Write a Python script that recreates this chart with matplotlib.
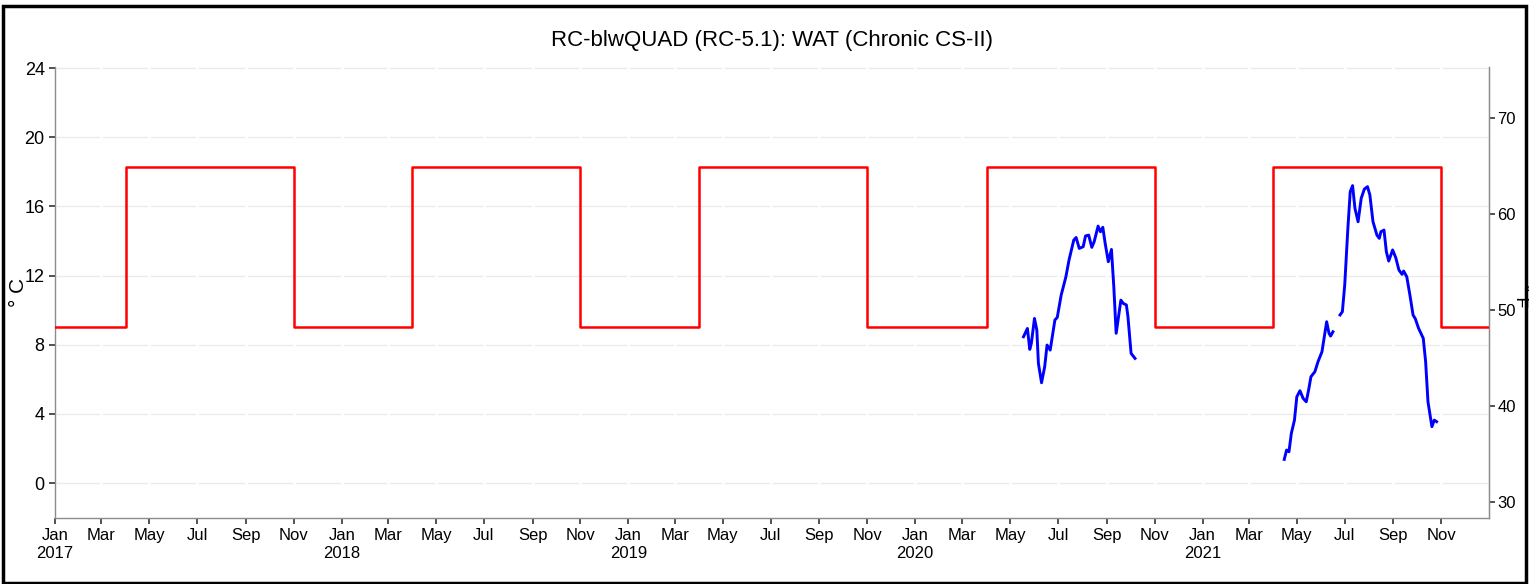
import pandas as pd
import matplotlib
matplotlib.use('Agg')
import matplotlib.pyplot as plt
from matplotlib.patches import Rectangle

plt.rcParams['font.family'] = ['Liberation Sans Narrow', 'Liberation Sans', 'DejaVu Sans']

# criterion step (deg C): high season Apr 1 - Nov 1, low otherwise
crit_dates = ['2017-01-01', '2017-04-01', '2017-11-01', '2018-04-01', '2018-11-01',
              '2019-04-01', '2019-11-01', '2020-04-01', '2020-11-01', '2021-04-01',
              '2021-11-01', '2022-01-01']
crit_vals = [9.0, 18.3, 9.0, 18.3, 9.0, 18.3, 9.0, 18.3, 9.0, 18.3, 9.0, 9.0]

# water temperature 2020
wat20_dates = ['2020-05-18', '2020-05-23', '2020-05-26', '2020-05-28', '2020-06-01',
               '2020-06-04', '2020-06-06', '2020-06-10', '2020-06-14', '2020-06-17',
               '2020-06-21', '2020-06-27', '2020-06-30', '2020-07-05', '2020-07-11',
               '2020-07-15', '2020-07-21', '2020-07-24', '2020-07-28', '2020-08-02',
               '2020-08-05', '2020-08-09', '2020-08-13', '2020-08-16', '2020-08-21',
               '2020-08-24', '2020-08-27', '2020-08-30', '2020-09-03', '2020-09-07',
               '2020-09-10', '2020-09-13', '2020-09-19', '2020-09-22', '2020-09-26',
               '2020-09-28', '2020-10-02', '2020-10-07']
wat20_vals = [8.46, 8.94, 7.73, 8.08, 9.52, 8.85, 6.92, 5.80, 6.73, 7.98,
              7.69, 9.43, 9.58, 10.87, 11.93, 12.9, 14.05, 14.2, 13.57, 13.67,
              14.29, 14.34, 13.63, 13.96, 14.86, 14.53, 14.79, 13.86, 12.8, 13.51,
              11.35, 8.66, 10.58, 10.39, 10.3, 9.62, 7.5, 7.21]

# water temperature 2021, part 1 (before gap)
wat21a_dates = ['2021-04-15', '2021-04-18', '2021-04-21', '2021-04-24', '2021-04-28',
                '2021-05-01', '2021-05-05', '2021-05-09', '2021-05-13', '2021-05-16',
                '2021-05-19', '2021-05-24', '2021-05-28', '2021-06-02', '2021-06-05',
                '2021-06-08', '2021-06-11', '2021-06-13', '2021-06-16']
wat21a_vals = [1.37, 1.91, 1.81, 2.87, 3.64, 4.99, 5.34, 4.9, 4.7, 5.38,
               6.15, 6.44, 7.02, 7.59, 8.46, 9.33, 8.66, 8.5, 8.75]

# water temperature 2021, part 2 (after gap)
wat21b_dates = ['2021-06-25', '2021-06-28', '2021-07-01', '2021-07-05', '2021-07-08',
                '2021-07-11', '2021-07-14', '2021-07-18', '2021-07-22', '2021-07-26',
                '2021-07-30', '2021-08-02', '2021-08-06', '2021-08-11', '2021-08-14',
                '2021-08-16', '2021-08-20', '2021-08-23', '2021-08-26', '2021-08-31',
                '2021-09-04', '2021-09-08', '2021-09-12', '2021-09-14', '2021-09-18',
                '2021-09-22', '2021-09-26', '2021-09-29', '2021-10-03', '2021-10-09',
                '2021-10-12', '2021-10-15', '2021-10-20', '2021-10-23', '2021-10-26']
wat21b_vals = [9.72, 9.91, 11.45, 14.73, 16.85, 17.2, 15.89, 15.11, 16.47, 17.0,
               17.14, 16.66, 15.11, 14.34, 14.15, 14.53, 14.63, 13.38, 12.84, 13.48,
               13.03, 12.32, 12.07, 12.26, 11.93, 10.87, 9.72, 9.49, 8.95, 8.37,
               7.02, 4.7, 3.26, 3.64, 3.55]

fig = plt.figure(figsize=(15.29, 5.84), dpi=100)
ax = fig.add_axes([0.036, 0.113, 0.938, 0.772])

ax.step(pd.to_datetime(crit_dates), crit_vals, where='post', color='#ff0000', lw=1.8, zorder=3)
for d, v in [(wat20_dates, wat20_vals), (wat21a_dates, wat21a_vals), (wat21b_dates, wat21b_vals)]:
    ax.plot(pd.to_datetime(d), v, color='#0000ff', lw=2.1, zorder=4)

ax.set_xlim(pd.Timestamp('2017-01-01'), pd.Timestamp('2022-01-01'))
ax.set_ylim(-2.02, 24.05)
ax.set_yticks([0, 4, 8, 12, 16, 20, 24])

ticks = pd.date_range('2017-01-01', '2021-11-01', freq='2MS')
ax.set_xticks(ticks)
ax.set_xticklabels([t.strftime('%b') + ('\n' + t.strftime('%Y') if t.month == 1 else '') for t in ticks])

ax.grid(axis='y', color='#ebebeb', lw=1.0)
ax.set_axisbelow(True)
for t in ticks:
    ax.axvline(t, color='white', lw=2.0, zorder=1)

for s in ['left', 'bottom', 'right']:
    ax.spines[s].set_color('#8c8c8c')
    ax.spines[s].set_linewidth(1.0)
ax.spines['top'].set_visible(False)
ax.tick_params(axis='both', length=4, width=1.2, color='#333333', labelcolor='black')
ax.tick_params(axis='y', labelsize=13)
ax.tick_params(axis='x', labelsize=12)

sec = ax.secondary_yaxis('right', functions=(lambda c: c * 1.8 + 32, lambda f: (f - 32) / 1.8))
sec.set_yticks([30, 40, 50, 60, 70])
sec.tick_params(length=4, width=1.2, color='#333333', labelsize=12, pad=2)
sec.spines['right'].set_color('#8c8c8c')

fig.text(18 / 1529, 1 - 292 / 584, '° C', fontsize=15, rotation=90, ha='center', va='center')
fig.text(1521 / 1529, 1 - 296 / 584, '° F', fontsize=13, rotation=-90, ha='center', va='center')
ax.set_title('RC-blwQUAD (RC-5.1): WAT (Chronic CS-II)', fontsize=16, pad=15)

fig.patches.append(Rectangle((0.002, 0.002), 0.996, 0.988, transform=fig.transFigure,
                             fill=False, edgecolor='black', lw=2.5))

fig.savefig('out.png', dpi=100)
